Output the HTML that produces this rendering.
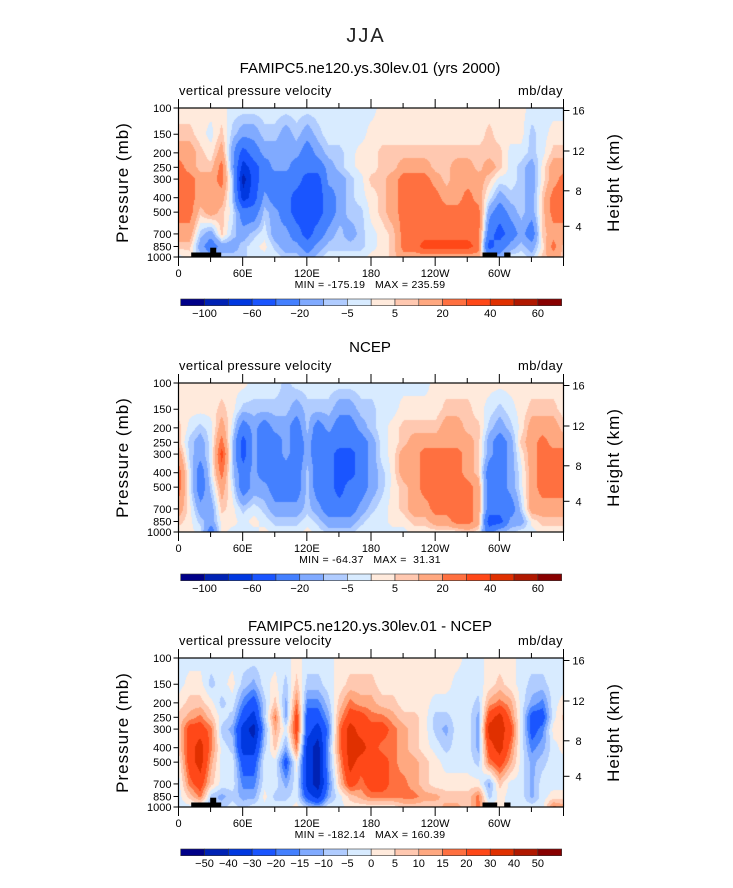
<!DOCTYPE html>
<html><head><meta charset="utf-8">
<style>
body{margin:0;background:#fff;width:733px;height:888px;overflow:hidden;position:relative;font-family:"Liberation Sans",sans-serif}
canvas{position:absolute}
svg{position:absolute;left:0;top:0}
</style></head>
<body>
<canvas id="c0" width="385" height="149" style="left:178.5px;top:108px"></canvas>
<canvas id="c1" width="385" height="149" style="left:178.5px;top:383px"></canvas>
<canvas id="c2" width="385" height="149" style="left:178.5px;top:658px"></canvas>
<svg id="ov" width="733" height="888"></svg>
<script>
const pLevels=[100,150,200,250,300,400,500,700,850,1000];
const lonCols=[0,10,20,30,40,50,60,70,80,90,100,110,120,130,140,150,160,170,180,190,200,210,220,230,240,250,260,270,280,290,300,310,320,330,340,350,360];
const levsMain=[-100,-80,-60,-40,-20,-10,-5,0,5,10,20,30,40,50,60];
const levsDiff=[-50,-40,-30,-20,-15,-10,-5,0,5,10,15,20,30,40,50];
const labelsMain=["-100","-60","-20","-5","5","20","40","60"];
const labelsDiff=["-50","-40","-30","-20","-15","-10","-5","0","5","10","15","20","30","40","50"];
const palette=["#000088","#0022b4","#0038e0","#1a55ff","#4480ff","#80aaff","#b0ccff","#d8ebff","#ffeadc","#ffc8b0","#ffa880","#ff7040","#ff4818","#e03000","#b01800","#880000"];
const modelCols=[
[2,7,15,25,25,25,25,15,7,-2],[2,7,15,15,25,25,25,15,7,2],[2,2,7,7,15,15,7,-7,-15,-7],[2,-2,2,7,15,15,15,-15,-30,-15],
[2,7,15,25,25,15,7,7,-15,-7],[-2,-7,-15,-15,-7,-7,-2,-7,-15,-7],[-2,-15,-50,-70,-90,-70,-30,-15,-7,-7],[-2,-15,-30,-50,-50,-50,-30,-7,-2,-2],
[-2,-7,-15,-30,-30,-15,-7,-2,2,-2],[-2,-7,-15,-15,-30,-30,-15,-15,-7,-2],[-2,-15,-15,-15,-30,-30,-30,-15,-15,-7],[-2,-7,-15,-30,-30,-50,-50,-30,-15,-7],
[-2,-15,-30,-30,-50,-50,-50,-50,-30,-15],[-2,-7,-15,-30,-50,-50,-50,-30,-15,-7],[-2,-2,-7,-15,-15,-30,-30,-15,-7,-2],[-2,-2,-7,-7,-15,-15,-15,-7,-7,-2],
[-2,-2,-2,-2,-7,-7,-7,-15,-7,-2],[-2,-2,2,2,-2,-2,-7,-7,-7,-2],[-2,2,2,2,7,2,2,-2,-2,2],[2,2,7,7,7,7,7,2,2,2],
[2,2,7,7,15,15,15,7,7,7],[2,2,7,15,25,25,25,25,25,15],[2,2,7,15,25,25,25,25,25,15],[2,2,7,15,25,25,25,25,35,15],
[2,2,7,7,15,25,25,25,35,15],[2,2,7,7,7,15,25,25,35,15],[2,2,7,15,15,15,25,25,35,15],[2,2,7,15,15,25,25,25,35,15],
[2,2,7,7,15,15,25,25,25,15],[2,7,7,15,7,-2,-15,-30,-50,-15],[2,2,7,7,-2,-15,-30,-50,-30,-15],[2,2,-2,-2,-2,-7,-15,-30,-15,-2],
[2,2,-2,-7,-7,-7,-7,-15,-7,-2],[-2,-7,-7,-15,-15,-15,-15,-30,-15,-7],[-2,-2,-2,2,2,7,7,7,2,7],[-2,2,7,15,15,25,25,15,25,15],
[-2,2,7,15,25,25,25,15,7,7]];
const ncepCols=[
[2,2,7,7,15,25,25,15,7,2],[2,2,-2,-7,-7,-2,-2,2,2,2],[2,2,-7,-15,-15,-30,-30,-15,-7,-2],[2,2,-2,-2,-2,-2,-7,-15,-15,-30],
[2,7,15,25,35,25,15,7,2,2],[2,2,-2,-7,-7,-7,-2,2,2,-2],[2,-7,-30,-50,-50,-30,-30,-7,-2,-2],[-2,-7,-15,-15,-15,-15,-15,-2,2,-2],
[-2,-7,-30,-30,-30,-30,-15,-7,-2,2],[-2,-7,-15,-30,-30,-30,-30,-15,-7,-2],[-7,-7,-15,-15,-15,-30,-30,-15,-7,-2],[-2,-15,-30,-30,-30,-30,-30,-15,-7,-2],
[-2,-7,-7,-15,-15,-7,-7,-7,-2,2],[-2,-7,-30,-30,-30,-30,-30,-15,-7,-2],[-2,-7,-15,-30,-30,-30,-30,-30,-15,-7],[-2,-15,-30,-30,-50,-50,-50,-30,-15,-7],
[-2,-15,-30,-30,-50,-50,-30,-30,-15,-7],[-2,-7,-15,-30,-30,-30,-30,-15,-7,-2],[-2,-7,-7,-15,-15,-15,-15,-7,-2,-2],[-2,-2,-2,-2,-2,-7,-7,-2,-2,-2],
[-2,-2,2,2,2,2,2,2,2,-2],[-2,2,7,7,15,15,7,7,2,-2],[-2,2,7,15,15,15,15,15,7,2],[-2,2,7,15,25,25,25,15,7,2],
[2,2,7,15,25,25,25,25,15,2],[2,7,15,15,25,25,25,25,15,2],[2,7,15,15,25,25,25,25,25,2],[2,7,7,15,15,15,25,25,25,7],
[2,2,7,7,7,7,15,15,15,2],[2,-2,-7,-15,-15,-30,-30,-30,-50,-30],[2,-7,-15,-30,-30,-30,-30,-30,-50,-7],[2,-2,-7,-15,-15,-15,-15,-30,-15,-7],
[2,2,2,7,2,-2,-2,-7,-15,-2],[2,7,15,15,15,15,15,15,2,-2],[2,7,15,25,25,25,25,15,7,2],[2,7,15,15,25,25,25,15,7,2],
[2,2,7,15,25,25,25,15,7,2]];
const diffCols=[
[-2,-2,2,7,7,7,2,-2,-2,-2],[-2,2,7,12,25,25,25,17,7,-2],[-2,2,7,17,25,35,35,25,17,-2],[-2,-7,2,7,17,17,12,7,-7,-12],
[-2,-2,-7,-2,-7,-2,-2,-2,-12,-7],[-2,2,-2,-7,-12,-7,-2,-2,-7,-2],[-2,-7,-17,-25,-35,-35,-25,-17,-12,-7],[-2,-12,-25,-35,-45,-35,-25,-17,-12,-2],
[-2,-2,-7,-7,-12,-7,-2,-2,2,-2],[-2,2,7,17,12,7,-2,-2,-7,-2],[-2,-7,-12,-12,-2,-12,-25,-12,-7,-2],[2,7,17,25,25,17,2,-2,-2,2],
[-2,-7,-17,-25,-25,-35,-35,-35,-25,-7],[-2,-7,-17,-25,-35,-45,-45,-45,-35,-12],[-2,-2,-7,-12,-17,-12,-12,-17,-12,-2],[2,2,7,12,17,17,12,7,-2,-2],
[2,7,17,25,35,35,35,25,7,2],[2,7,12,25,25,35,25,17,12,2],[2,7,12,17,25,25,25,25,17,2],[2,2,7,17,25,17,25,25,17,2],
[2,2,7,12,17,17,17,17,17,2],[2,2,2,7,12,12,12,17,17,7],[2,2,2,7,7,7,12,12,17,7],[2,2,2,2,2,2,7,7,12,7],
[2,2,-2,-7,-7,-2,2,2,12,7],[2,2,-2,-7,-12,-7,-2,2,7,12],[2,-2,-2,-2,-2,-2,-2,2,7,12],[-2,-2,-2,-2,-2,-2,-2,2,7,7],
[-2,-2,-7,-12,-12,-12,-7,2,17,17],[2,2,12,25,35,25,17,-12,-7,2],[2,7,17,35,35,35,25,7,2,2],[2,2,12,17,25,17,12,-2,-2,-2],
[-2,-2,-2,-2,-2,-2,-2,-2,-2,-2],[-2,-7,-12,-25,-25,-17,-12,-12,-12,-2],[-2,-7,-17,-25,-17,-12,-7,-2,-2,-2],[-2,-2,-2,-2,2,-2,-2,-2,2,17],
[-2,-2,2,7,2,2,-2,-2,2,12]];

const W=385,H=149;
function binOf(v,levs){let k=0;for(const l of levs){if(v>=l)k++;}return k;}
function hex(c){return [parseInt(c.substr(1,2),16),parseInt(c.substr(3,2),16),parseInt(c.substr(5,2),16)];}
const rgb=palette.map(hex);
function drawField(id,cols,levs){
  const ctx=document.getElementById(id).getContext('2d');
  const img=ctx.createImageData(W,H);
  const lp=pLevels.map(p=>Math.log10(p));
  for(let y=0;y<H;y++){
    const l=2+(y+0.5)/H;let i=0;
    while(i<lp.length-2&&l>lp[i+1])i++;
    let t=(l-lp[i])/(lp[i+1]-lp[i]);t=Math.max(0,Math.min(1,t));
    for(let x=0;x<W;x++){
      const lon=(x+0.5)/W*360;let j=Math.min(lonCols.length-2,Math.floor(lon/10));
      const s=(lon-lonCols[j])/10;
      const v=(1-s)*((1-t)*cols[j][i]+t*cols[j][i+1])+s*((1-t)*cols[j+1][i]+t*cols[j+1][i+1]);
      const c=rgb[binOf(v,levs)];const o=(y*W+x)*4;
      img.data[o]=c[0];img.data[o+1]=c[1];img.data[o+2]=c[2];img.data[o+3]=255;
    }
  }
  ctx.putImageData(img,0,0);
}
drawField('c0',modelCols,levsMain);
drawField('c1',ncepCols,levsMain);
drawField('c2',diffCols,levsDiff);

const svg=document.getElementById('ov');const NS='http://www.w3.org/2000/svg';
function el(tag,attrs,txt){const e=document.createElementNS(NS,tag);for(const k in attrs)e.setAttribute(k,attrs[k]);if(txt!==undefined)e.textContent=txt;svg.appendChild(e);return e;}
const X0=178.5;
function xs(lon){return X0+lon/360*W;}
function ys(top,p){return top+(Math.log10(p)-2)*H;}

let t=el('text',{x:366,y:42,'text-anchor':'middle','font-size':20,fill:'#222','letter-spacing':'2'},'JJA');


const panels=[
 {top:108,title:'FAMIPC5.ne120.ys.30lev.01 (yrs 2000)',ty:73,mm:'MIN = -175.19   MAX = 235.59',labels:labelsMain,terrain:true,name:'model'},
 {top:383,title:'NCEP',ty:352,mm:'MIN = -64.37   MAX =  31.31',labels:labelsMain,terrain:false,name:'ncep'},
 {top:658,title:'FAMIPC5.ne120.ys.30lev.01 - NCEP',ty:631,mm:'MIN = -182.14   MAX = 160.39',labels:labelsDiff,terrain:true,name:'difference'}];
const xTickLon=[0,60,120,180,240,300];
const xTickLab=['0','60E','120E','180','120W','60W'];
const kmTicks=[[16,2.5],[12,43],[8,82.8],[4,118.3]];
panels.forEach(P=>{
  const top=P.top;
  let e=el('text',{x:370,y:P.ty,'text-anchor':'middle','font-size':15,fill:'#000'},P.title);
  
  e=el('text',{x:179,y:top-13,'font-size':13,fill:'#000','letter-spacing':'0.4'},'vertical pressure velocity');
  
  e=el('text',{x:563,y:top-13,'text-anchor':'end','font-size':13,fill:'#000','letter-spacing':'0.4'},'mb/day');
  
  if(P.terrain){
    [[12.7,4.5,30,4.5],[31.7,9.3,6,9.3],[304,4.5,14.7,4.5],[325.7,4.5,6.3,4.5]].forEach(r=>{
      const q=el('rect',{x:X0+r[0],y:top+H-r[1],width:r[2],height:r[3],fill:'#000'});
      });
  }
  e=el('rect',{x:X0,y:top,width:W,height:H,fill:'none',stroke:'#000','stroke-width':1.2});
  
  for(let lon=0;lon<=360;lon+=30){
    const maj=lon%60===0;const x=xs(lon);const L=maj?9:5;
    el('line',{x1:x,y1:top,x2:x,y2:top-L,stroke:'#000','stroke-width':1});
    el('line',{x1:x,y1:top+H,x2:x,y2:top+H+L,stroke:'#000','stroke-width':1});
  }
  xTickLon.forEach((lon,i)=>{
    const q=el('text',{x:xs(lon),y:top+169,'text-anchor':'middle','font-size':11,fill:'#000'},xTickLab[i]);
    });
  pLevels.forEach(p=>{
    const y=ys(top,p);
    el('line',{x1:X0,y1:y,x2:X0-5,y2:y,stroke:'#000','stroke-width':1});
    const q=el('text',{x:X0-7,y:y+4,'text-anchor':'end','font-size':11,fill:'#000'},String(p));
    });
  kmTicks.forEach(k=>{
    const y=top+k[1];
    el('line',{x1:X0+W,y1:y,x2:X0+W+6,y2:y,stroke:'#000','stroke-width':1});
    const q=el('text',{x:X0+W+15,y:y+4,'text-anchor':'middle','font-size':11,fill:'#000'},String(k[0]));
    });
  e=el('text',{x:0,y:0,'text-anchor':'middle','font-size':17,fill:'#000','letter-spacing':'1',transform:`translate(128,${top+H/2}) rotate(-90)`},'Pressure (mb)');
  
  e=el('text',{x:0,y:0,'text-anchor':'middle','font-size':17,fill:'#000','letter-spacing':'1',transform:`translate(619,${top+H/2}) rotate(-90)`},'Height (km)');
  
  e=el('text',{x:370,y:top+180,'text-anchor':'middle','font-size':10.5,fill:'#000',style:'white-space:pre','letter-spacing':'0.3'},P.mm);
  
  const cy=top+191,bw=23.81,cx0=180.7;
  palette.forEach((c,i)=>{
    const q=el('rect',{x:cx0+i*bw,y:cy,width:bw,height:6.7,fill:c,stroke:'#333','stroke-width':0.6});
    });
  const step=P.labels.length===8?2:1;
  P.labels.forEach((lab,i)=>{
    const q=el('text',{x:cx0+(i*step+1)*bw,y:top+209,'text-anchor':'middle','font-size':11,fill:'#000'},lab.replace('-','\u2212'));
    });
});
</script>
</body></html>
